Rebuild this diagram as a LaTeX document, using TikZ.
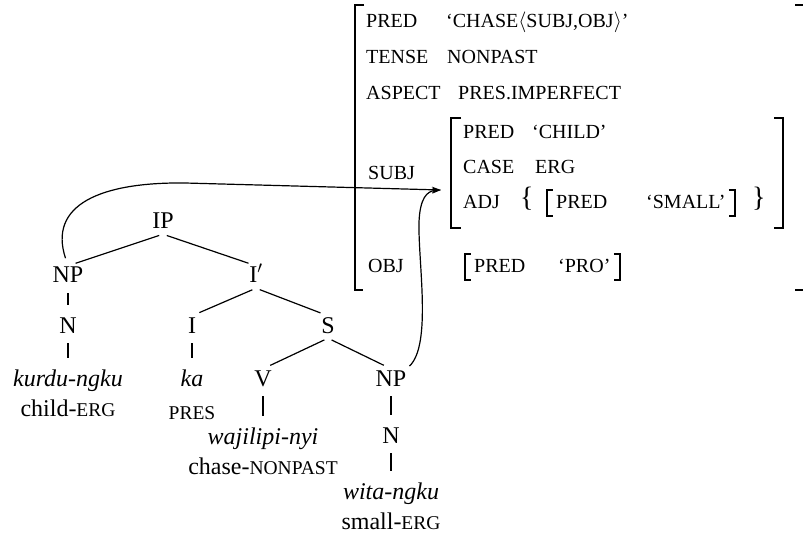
\documentclass[tikz,border=0pt]{standalone}
\usepackage{fontspec}
\setmainfont{Liberation Serif}
\usetikzlibrary{arrows.meta,positioning,fit,calc}

\newcommand\fsz{\fontsize{20}{23}\selectfont}
\newcommand\trz{\fontsize{24}{28}\selectfont}
\newcommand\gsc[1]{{\fontsize{19.5}{22}\selectfont #1}}

\begin{document}
\begin{tikzpicture}[
    x=1pt, y=-1pt,
    >={Stealth[length=9pt,width=6pt]},
    cat/.style    ={inner sep=0pt, text height=17pt, text depth=5pt, font=\trz},
    word/.style   ={cat, font=\trz\itshape},
    attr/.style   ={anchor=west, inner sep=0pt, text height=14pt, text depth=3pt,
                    font=\fsz},
    brace/.style  ={attr, font=\fontsize{28}{30}\selectfont},
    branch/.style ={line width=1.2pt, shorten <=4pt, shorten >=8pt},
    stem/.style   ={line width=1.2pt, shorten <=5pt, shorten >=11pt},
    brk/.style    ={line width=1.9pt},
    sbrk/.style   ={line width=1.4pt},
    link/.style   ={->, line width=1.2pt},
]
\useasboundingbox (0,0) rectangle (803,537);

% ----------------------------------------------------------------------
%  c-structure
% ----------------------------------------------------------------------
\node[cat]  (ip)       at (163,223) {IP};
\node[cat]  (npa)      at (68,277)  {NP};
\node[cat]  (ibar)     at (256,277) {I$'$};
\node[cat]  (na)       at (68,327)  {N};
\node[cat]  (ii)       at (192,327) {I};
\node[cat]  (ss)       at (328,327) {S};
\node[word] (kurdu)    at (68,380)  {kurdu-ngku};
\node[cat]  (childerg) at (68,410)  {child-\gsc{ERG}};
\node[word] (ka)       at (192,380) {ka};
\node[cat]  (pres)     at (192,413) {\gsc{PRES}};
\node[cat]  (vv)       at (263,380) {V};
\node[word] (wajilipi) at (263,438) {wajilipi-nyi};
\node[cat]  (chasenp)  at (263,468) {chase-\gsc{NONPAST}};
\node[cat]  (npb)      at (391,380) {NP};
\node[cat]  (nb)       at (391,437) {N};
\node[word] (wita)     at (391,493) {wita-ngku};
\node[cat]  (smallerg) at (391,523) {small-\gsc{ERG}};

\draw[branch] (ip.south)   -- (npa.north);
\draw[branch] (ip.south)   -- (ibar.north);
\draw[branch] (ibar.south) -- (ii.north);
\draw[branch] (ibar.south) -- (ss.north);
\draw[branch] (ss.south)   -- (vv.north);
\draw[branch] (ss.south)   -- (npb.north);

\draw[stem] (npa) -- (na);
\draw[stem] (na)  -- (kurdu);
\draw[stem] (ii)  -- (ka);
\draw[stem] (vv)  -- (wajilipi);
\draw[stem] (npb) -- (nb);
\draw[stem] (nb)  -- (wita);

% ----------------------------------------------------------------------
%  f-structure
% ----------------------------------------------------------------------
\node[attr] (pred)    at (366,22)  {PRED};
\node[attr] (chase)   at (446,22)  {‘CHASE$\langle$SUBJ,OBJ$\rangle$’};
\node[attr] (tense)   at (366,58)  {TENSE};
\node[attr] (nonpast) at (447,58)  {NONPAST};
\node[attr] (aspect)  at (366,94)  {ASPECT};
\node[attr] (presimp) at (458,94)  {PRES.IMPERFECT};
\node[attr] (subj)    at (368,174) {SUBJ};
\node[attr] (obj)     at (368,267) {OBJ};

% value of SUBJ
\node[attr]  (spred)  at (463,133) {PRED};
\node[attr]  (child)  at (532,133) {‘CHILD’};
\node[attr]  (case)   at (463,168) {CASE};
\node[attr]  (erg)    at (535,168) {ERG};
\node[attr]  (adj)    at (463,203) {ADJ};
\node[brace] (lbrace) at (520,201) {\{};
\node[attr]  (apred)  at (556,203) {PRED};
\node[attr]  (small)  at (646,203) {‘SMALL’};
\node[brace] (rbrace) at (752,201) {\}};

% value of OBJ
\node[attr] (opred) at (474,267) {PRED};
\node[attr] (pro)   at (558,267) {‘PRO’};

% brackets
\draw[brk] (364,5) -| (355,290) -- (363,290);
\draw[brk] (795,5) -- (803,5);
\draw[brk] (795,290) -- (803,290);
\draw[brk] (461,118) -| (451,228) -- (461,228);
\draw[brk] (774,118) -| (783,228) -- (774,228);

\node[fit=(apred)(small), inner xsep=9pt, inner ysep=4pt] (smallbox) {};
\draw[sbrk] (smallbox.north west) ++(6,0) -| (smallbox.south west) -- ++(6,0);
\draw[sbrk] (smallbox.north east) ++(-6,0) -| (smallbox.south east) -- ++(-6,0);

\node[fit=(opred)(pro), inner xsep=9pt, inner ysep=4pt] (probox) {};
\draw[sbrk] (probox.north west) ++(6,0) -| (probox.south west) -- ++(6,0);
\draw[sbrk] (probox.north east) ++(-6,0) -| (probox.south east) -- ++(-6,0);

% the two NPs map to SUBJ
\coordinate (subjin) at (441,190);
\draw[link, shorten <=8pt] (npa.north) .. controls (48,205) and (100,182) .. (185,183)
      -- (subjin);
\draw[link, shorten <=4pt] (npb.north east) .. controls (432,345) and (418,262) .. (419,222)
      .. controls (420,198) and (427,191) .. (subjin);

\end{tikzpicture}
\end{document}
